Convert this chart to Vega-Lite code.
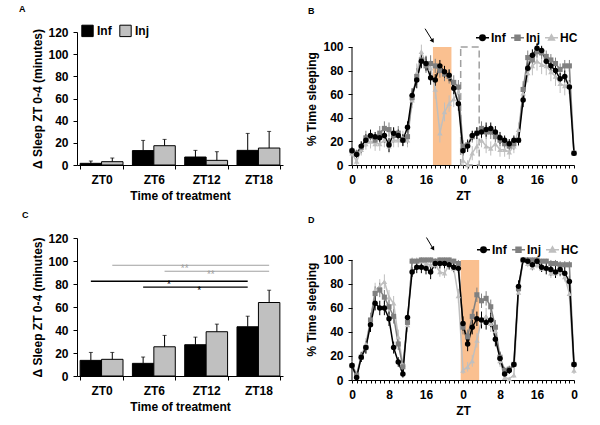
{
"$schema": "https://vega.github.io/schema/vega-lite/v6.json",
"autosize": {"type": "pad"},
"padding": {"left": 19, "top": 5, "right": 5, "bottom": 5},
"config": {
  "font": "Liberation Sans",
  "view": {"stroke": null},
  "axis": {"labelFontSize": 12, "labelFontWeight": "bold", "labelColor": "#000", "titleFontSize": 12, "titleFontWeight": "bold", "titleColor": "#000", "domainColor": "#000", "tickColor": "#000", "grid": false, "tickSize": 4, "labelPadding": 5, "labelOverlap": false},
  "legend": {"labelFontSize": 12, "labelFontWeight": "bold", "labelColor": "#000"},
  "title": {"fontSize": 9, "fontWeight": "bold", "anchor": "start", "frame": "group", "color": "#000"}
},
"resolve": {"scale": {"color": "independent", "shape": "independent"}, "legend": {"color": "independent", "shape": "independent"}},
"datasets": {
  "B": [
{"h":0,"s":"HC","v":10,"e":3},{"h":1,"s":"HC","v":3,"e":3},{"h":2,"s":"HC","v":13,"e":5},{"h":3,"s":"HC","v":18,"e":5},{"h":4,"s":"HC","v":20,"e":6},{"h":5,"s":"HC","v":18,"e":6},{"h":6,"s":"HC","v":18,"e":6},{"h":7,"s":"HC","v":21,"e":6},{"h":8,"s":"HC","v":16,"e":6},{"h":9,"s":"HC","v":21,"e":6},{"h":10,"s":"HC","v":21,"e":6},{"h":11,"s":"HC","v":23,"e":6},{"h":12,"s":"HC","v":21,"e":6},{"h":13,"s":"HC","v":55,"e":7},{"h":14,"s":"HC","v":78,"e":8},{"h":15,"s":"HC","v":96,"e":6},{"h":16,"s":"HC","v":86,"e":7},{"h":17,"s":"HC","v":82,"e":7},{"h":18,"s":"HC","v":64,"e":8},{"h":19,"s":"HC","v":27,"e":8},{"h":20,"s":"HC","v":45,"e":8},{"h":21,"s":"HC","v":52,"e":7},{"h":22,"s":"HC","v":56,"e":7},{"h":23,"s":"HC","v":62,"e":7},{"h":24,"s":"HC","v":4,"e":5},{"h":25,"s":"HC","v":0,"e":4},{"h":26,"s":"HC","v":10,"e":6},{"h":27,"s":"HC","v":16,"e":6},{"h":28,"s":"HC","v":21,"e":6},{"h":29,"s":"HC","v":16,"e":6},{"h":30,"s":"HC","v":14,"e":6},{"h":31,"s":"HC","v":18,"e":6},{"h":32,"s":"HC","v":13,"e":6},{"h":33,"s":"HC","v":13,"e":6},{"h":34,"s":"HC","v":11,"e":6},{"h":35,"s":"HC","v":16,"e":6},{"h":36,"s":"HC","v":30,"e":6},{"h":37,"s":"HC","v":61,"e":8},{"h":38,"s":"HC","v":78,"e":8},{"h":39,"s":"HC","v":84,"e":8},{"h":40,"s":"HC","v":88,"e":8},{"h":41,"s":"HC","v":85,"e":8},{"h":42,"s":"HC","v":84,"e":8},{"h":43,"s":"HC","v":79,"e":8},{"h":44,"s":"HC","v":75,"e":8},{"h":45,"s":"HC","v":69,"e":8},{"h":46,"s":"HC","v":67,"e":8},{"h":47,"s":"HC","v":69,"e":8},{"h":48,"s":"HC","v":11,"e":3},
{"h":0,"s":"Inj","v":12,"e":3},{"h":1,"s":"Inj","v":10,"e":3},{"h":2,"s":"Inj","v":15,"e":5},{"h":3,"s":"Inj","v":23,"e":6},{"h":4,"s":"Inj","v":24,"e":5},{"h":5,"s":"Inj","v":21,"e":5},{"h":6,"s":"Inj","v":27,"e":6},{"h":7,"s":"Inj","v":31,"e":6},{"h":8,"s":"Inj","v":30,"e":6},{"h":9,"s":"Inj","v":25,"e":6},{"h":10,"s":"Inj","v":27,"e":6},{"h":11,"s":"Inj","v":21,"e":5},{"h":12,"s":"Inj","v":24,"e":6},{"h":13,"s":"Inj","v":57,"e":6},{"h":14,"s":"Inj","v":75,"e":7},{"h":15,"s":"Inj","v":89,"e":6},{"h":16,"s":"Inj","v":84,"e":6},{"h":17,"s":"Inj","v":86,"e":7},{"h":18,"s":"Inj","v":84,"e":6},{"h":19,"s":"Inj","v":80,"e":6},{"h":20,"s":"Inj","v":77,"e":6},{"h":21,"s":"Inj","v":75,"e":6},{"h":22,"s":"Inj","v":70,"e":6},{"h":23,"s":"Inj","v":66,"e":6},{"h":24,"s":"Inj","v":16,"e":5},{"h":25,"s":"Inj","v":17,"e":5},{"h":26,"s":"Inj","v":24,"e":5},{"h":27,"s":"Inj","v":27,"e":5},{"h":28,"s":"Inj","v":31,"e":6},{"h":29,"s":"Inj","v":28,"e":6},{"h":30,"s":"Inj","v":28,"e":6},{"h":31,"s":"Inj","v":24,"e":5},{"h":32,"s":"Inj","v":21,"e":5},{"h":33,"s":"Inj","v":18,"e":5},{"h":34,"s":"Inj","v":16,"e":5},{"h":35,"s":"Inj","v":18,"e":5},{"h":36,"s":"Inj","v":21,"e":5},{"h":37,"s":"Inj","v":64,"e":7},{"h":38,"s":"Inj","v":91,"e":6},{"h":39,"s":"Inj","v":89,"e":6},{"h":40,"s":"Inj","v":96,"e":5},{"h":41,"s":"Inj","v":95,"e":5},{"h":42,"s":"Inj","v":92,"e":5},{"h":43,"s":"Inj","v":89,"e":5},{"h":44,"s":"Inj","v":86,"e":5},{"h":45,"s":"Inj","v":81,"e":5},{"h":46,"s":"Inj","v":84,"e":5},{"h":47,"s":"Inj","v":84,"e":5},{"h":48,"s":"Inj","v":10,"e":2},
{"h":0,"s":"Inf","v":12,"e":3},{"h":1,"s":"Inf","v":9,"e":3},{"h":2,"s":"Inf","v":16,"e":4},{"h":3,"s":"Inf","v":21,"e":5},{"h":4,"s":"Inf","v":25,"e":5},{"h":5,"s":"Inf","v":24,"e":4},{"h":6,"s":"Inf","v":23,"e":5},{"h":7,"s":"Inf","v":25,"e":6},{"h":8,"s":"Inf","v":17,"e":6},{"h":9,"s":"Inf","v":27,"e":5},{"h":10,"s":"Inf","v":25,"e":5},{"h":11,"s":"Inf","v":21,"e":5},{"h":12,"s":"Inf","v":32,"e":5},{"h":13,"s":"Inf","v":59,"e":6},{"h":14,"s":"Inf","v":72,"e":7},{"h":15,"s":"Inf","v":88,"e":6},{"h":16,"s":"Inf","v":86,"e":6},{"h":17,"s":"Inf","v":74,"e":6},{"h":18,"s":"Inf","v":72,"e":5},{"h":19,"s":"Inf","v":84,"e":5},{"h":20,"s":"Inf","v":79,"e":5},{"h":21,"s":"Inf","v":76,"e":5},{"h":22,"s":"Inf","v":65,"e":5},{"h":23,"s":"Inf","v":52,"e":6},{"h":24,"s":"Inf","v":12,"e":4},{"h":25,"s":"Inf","v":16,"e":5},{"h":26,"s":"Inf","v":25,"e":4},{"h":27,"s":"Inf","v":27,"e":5},{"h":28,"s":"Inf","v":28,"e":5},{"h":29,"s":"Inf","v":30,"e":6},{"h":30,"s":"Inf","v":31,"e":5},{"h":31,"s":"Inf","v":28,"e":5},{"h":32,"s":"Inf","v":23,"e":5},{"h":33,"s":"Inf","v":21,"e":4},{"h":34,"s":"Inf","v":18,"e":4},{"h":35,"s":"Inf","v":21,"e":4},{"h":36,"s":"Inf","v":21,"e":4},{"h":37,"s":"Inf","v":55,"e":6},{"h":38,"s":"Inf","v":82,"e":6},{"h":39,"s":"Inf","v":93,"e":5},{"h":40,"s":"Inf","v":99,"e":4},{"h":41,"s":"Inf","v":97,"e":4},{"h":42,"s":"Inf","v":88,"e":5},{"h":43,"s":"Inf","v":84,"e":5},{"h":44,"s":"Inf","v":80,"e":5},{"h":45,"s":"Inf","v":73,"e":5},{"h":46,"s":"Inf","v":75,"e":5},{"h":47,"s":"Inf","v":66,"e":6},{"h":48,"s":"Inf","v":10,"e":2}
  ],
  "D": [
{"h":0,"s":"HC","v":13,"e":3},{"h":1,"s":"HC","v":5,"e":2},{"h":2,"s":"HC","v":20,"e":4},{"h":3,"s":"HC","v":30,"e":5},{"h":4,"s":"HC","v":50,"e":6},{"h":5,"s":"HC","v":75,"e":6},{"h":6,"s":"HC","v":78,"e":6},{"h":7,"s":"HC","v":82,"e":6},{"h":8,"s":"HC","v":69,"e":6},{"h":9,"s":"HC","v":64,"e":6},{"h":10,"s":"HC","v":36,"e":6},{"h":11,"s":"HC","v":13,"e":4},{"h":12,"s":"HC","v":46,"e":6},{"h":13,"s":"HC","v":100,"e":2},{"h":14,"s":"HC","v":100,"e":2},{"h":15,"s":"HC","v":99,"e":3},{"h":16,"s":"HC","v":97,"e":3},{"h":17,"s":"HC","v":96,"e":3},{"h":18,"s":"HC","v":96,"e":3},{"h":19,"s":"HC","v":90,"e":4},{"h":20,"s":"HC","v":89,"e":4},{"h":21,"s":"HC","v":96,"e":3},{"h":22,"s":"HC","v":93,"e":4},{"h":23,"s":"HC","v":70,"e":6},{"h":24,"s":"HC","v":8,"e":3},{"h":25,"s":"HC","v":11,"e":4},{"h":26,"s":"HC","v":16,"e":5},{"h":27,"s":"HC","v":33,"e":6},{"h":28,"s":"HC","v":50,"e":7},{"h":29,"s":"HC","v":53,"e":7},{"h":30,"s":"HC","v":47,"e":7},{"h":31,"s":"HC","v":41,"e":6},{"h":32,"s":"HC","v":16,"e":5},{"h":33,"s":"HC","v":2,"e":2},{"h":34,"s":"HC","v":1,"e":1},{"h":35,"s":"HC","v":4,"e":2},{"h":36,"s":"HC","v":73,"e":6},{"h":37,"s":"HC","v":100,"e":1},{"h":38,"s":"HC","v":97,"e":3},{"h":39,"s":"HC","v":94,"e":3},{"h":40,"s":"HC","v":96,"e":3},{"h":41,"s":"HC","v":93,"e":3},{"h":42,"s":"HC","v":93,"e":3},{"h":43,"s":"HC","v":89,"e":4},{"h":44,"s":"HC","v":89,"e":4},{"h":45,"s":"HC","v":90,"e":4},{"h":46,"s":"HC","v":86,"e":4},{"h":47,"s":"HC","v":72,"e":5},{"h":48,"s":"HC","v":8,"e":3},
{"h":0,"s":"Inj","v":12,"e":3},{"h":1,"s":"Inj","v":4,"e":2},{"h":2,"s":"Inj","v":19,"e":4},{"h":3,"s":"Inj","v":27,"e":5},{"h":4,"s":"Inj","v":50,"e":6},{"h":5,"s":"Inj","v":72,"e":6},{"h":6,"s":"Inj","v":75,"e":6},{"h":7,"s":"Inj","v":69,"e":6},{"h":8,"s":"Inj","v":61,"e":6},{"h":9,"s":"Inj","v":53,"e":6},{"h":10,"s":"Inj","v":30,"e":5},{"h":11,"s":"Inj","v":11,"e":4},{"h":12,"s":"Inj","v":48,"e":5},{"h":13,"s":"Inj","v":99,"e":2},{"h":14,"s":"Inj","v":99,"e":2},{"h":15,"s":"Inj","v":100,"e":2},{"h":16,"s":"Inj","v":100,"e":2},{"h":17,"s":"Inj","v":100,"e":2},{"h":18,"s":"Inj","v":99,"e":2},{"h":19,"s":"Inj","v":100,"e":2},{"h":20,"s":"Inj","v":100,"e":2},{"h":21,"s":"Inj","v":100,"e":2},{"h":22,"s":"Inj","v":99,"e":2},{"h":23,"s":"Inj","v":97,"e":3},{"h":24,"s":"Inj","v":44,"e":6},{"h":25,"s":"Inj","v":36,"e":6},{"h":26,"s":"Inj","v":53,"e":6},{"h":27,"s":"Inj","v":71,"e":6},{"h":28,"s":"Inj","v":66,"e":6},{"h":29,"s":"Inj","v":68,"e":6},{"h":30,"s":"Inj","v":61,"e":6},{"h":31,"s":"Inj","v":44,"e":6},{"h":32,"s":"Inj","v":19,"e":5},{"h":33,"s":"Inj","v":8,"e":3},{"h":34,"s":"Inj","v":9,"e":3},{"h":35,"s":"Inj","v":13,"e":3},{"h":36,"s":"Inj","v":76,"e":5},{"h":37,"s":"Inj","v":100,"e":1},{"h":38,"s":"Inj","v":100,"e":2},{"h":39,"s":"Inj","v":100,"e":2},{"h":40,"s":"Inj","v":100,"e":2},{"h":41,"s":"Inj","v":99,"e":2},{"h":42,"s":"Inj","v":99,"e":2},{"h":43,"s":"Inj","v":97,"e":3},{"h":44,"s":"Inj","v":97,"e":3},{"h":45,"s":"Inj","v":96,"e":3},{"h":46,"s":"Inj","v":96,"e":3},{"h":47,"s":"Inj","v":96,"e":3},{"h":48,"s":"Inj","v":13,"e":3},
{"h":0,"s":"Inf","v":12,"e":3},{"h":1,"s":"Inf","v":2,"e":2},{"h":2,"s":"Inf","v":19,"e":4},{"h":3,"s":"Inf","v":27,"e":5},{"h":4,"s":"Inf","v":46,"e":6},{"h":5,"s":"Inf","v":64,"e":6},{"h":6,"s":"Inf","v":60,"e":6},{"h":7,"s":"Inf","v":60,"e":6},{"h":8,"s":"Inf","v":51,"e":6},{"h":9,"s":"Inf","v":27,"e":5},{"h":10,"s":"Inf","v":15,"e":4},{"h":11,"s":"Inf","v":5,"e":3},{"h":12,"s":"Inf","v":52,"e":5},{"h":13,"s":"Inf","v":90,"e":4},{"h":14,"s":"Inf","v":94,"e":5},{"h":15,"s":"Inf","v":94,"e":5},{"h":16,"s":"Inf","v":93,"e":5},{"h":17,"s":"Inf","v":90,"e":6},{"h":18,"s":"Inf","v":97,"e":4},{"h":19,"s":"Inf","v":97,"e":4},{"h":20,"s":"Inf","v":97,"e":4},{"h":21,"s":"Inf","v":96,"e":4},{"h":22,"s":"Inf","v":94,"e":4},{"h":23,"s":"Inf","v":93,"e":4},{"h":24,"s":"Inf","v":47,"e":6},{"h":25,"s":"Inf","v":30,"e":6},{"h":26,"s":"Inf","v":44,"e":6},{"h":27,"s":"Inf","v":51,"e":6},{"h":28,"s":"Inf","v":50,"e":7},{"h":29,"s":"Inf","v":48,"e":6},{"h":30,"s":"Inf","v":50,"e":6},{"h":31,"s":"Inf","v":34,"e":6},{"h":32,"s":"Inf","v":18,"e":5},{"h":33,"s":"Inf","v":5,"e":3},{"h":34,"s":"Inf","v":8,"e":3},{"h":35,"s":"Inf","v":13,"e":3},{"h":36,"s":"Inf","v":78,"e":5},{"h":37,"s":"Inf","v":100,"e":2},{"h":38,"s":"Inf","v":99,"e":3},{"h":39,"s":"Inf","v":96,"e":4},{"h":40,"s":"Inf","v":99,"e":3},{"h":41,"s":"Inf","v":94,"e":4},{"h":42,"s":"Inf","v":93,"e":5},{"h":43,"s":"Inf","v":92,"e":5},{"h":44,"s":"Inf","v":90,"e":5},{"h":45,"s":"Inf","v":92,"e":5},{"h":46,"s":"Inf","v":89,"e":5},{"h":47,"s":"Inf","v":82,"e":5},{"h":48,"s":"Inf","v":13,"e":3}
  ]
},
"columns": 2,
"bounds": "flush",
"spacing": {"row": 73, "column": 69},
"concat": [
{
  "width": 206, "height": 133,
  "title": {"text": "A", "dx": -58, "offset": 12},
  "data": {"values": [
    {"zt": "ZT0", "g": "Inf", "v": 1.5, "hi": 3.6}, {"zt": "ZT0", "g": "Inj", "v": 3, "hi": 6.3},
    {"zt": "ZT6", "g": "Inf", "v": 13, "hi": 22.2}, {"zt": "ZT6", "g": "Inj", "v": 17.4, "hi": 23.1},
    {"zt": "ZT12", "g": "Inf", "v": 7.2, "hi": 13.2}, {"zt": "ZT12", "g": "Inj", "v": 4.2, "hi": 12},
    {"zt": "ZT18", "g": "Inf", "v": 13.2, "hi": 28.5}, {"zt": "ZT18", "g": "Inj", "v": 15.3, "hi": 30.3}
  ]},
  "layer": [
    {"mark": {"type": "bar", "stroke": "#000", "strokeWidth": 1},
     "encoding": {
       "x": {"field": "zt", "type": "nominal", "title": "Time of treatment", "scale": {"domain": ["ZT0", "ZT6", "ZT12", "ZT18"], "paddingInner": 0.18, "paddingOuter": 0.06}, "axis": {"labelAngle": 0, "tickBand": "extent", "labelPadding": 5, "titlePadding": 5}},
       "xOffset": {"field": "g", "type": "nominal", "scale": {"domain": ["Inf", "Inj"]}},
       "y": {"field": "v", "type": "quantitative", "title": "Δ Sleep ZT 0-4 (minutes)", "scale": {"domain": [0, 120], "nice": false}, "axis": {"values": [0, 20, 40, 60, 80, 100, 120], "tickCount": 100, "titlePadding": 3}},
       "fill": {"field": "g", "type": "nominal", "scale": {"domain": ["Inf", "Inj"], "range": ["#000000", "#c0c0c0"]}, "legend": {"orient": "none", "legendX": 4, "legendY": -8, "direction": "horizontal", "title": null, "symbolType": "square", "symbolSize": 130, "symbolStrokeColor": "#000", "symbolStrokeWidth": 1, "labelOffset": 3, "columnPadding": 5}}
     }},
    {"mark": {"type": "rule", "color": "#000", "strokeWidth": 1},
     "encoding": {
       "x": {"field": "zt", "type": "nominal", "title": "Time of treatment"},
       "xOffset": {"field": "g", "type": "nominal"},
       "y": {"field": "v", "type": "quantitative", "title": "Δ Sleep ZT 0-4 (minutes)"}, "y2": {"field": "hi"}}},
    {"mark": {"type": "tick", "color": "#000", "thickness": 1, "size": 4},
     "encoding": {
       "x": {"field": "zt", "type": "nominal", "title": "Time of treatment"},
       "xOffset": {"field": "g", "type": "nominal"},
       "y": {"field": "hi", "type": "quantitative", "title": "Δ Sleep ZT 0-4 (minutes)"}}}
  ]
},
{
  "width": 222, "height": 133,
  "title": {"text": "B", "dx": -44, "offset": 12},
  "layer": [
    {"data": {"values": [{"a": 17.5, "b": 21.5, "lo": 0, "top": 100}]},
     "mark": {"type": "rect", "fill": "#FAC090"},
     "encoding": {
       "x": {"field": "a", "type": "quantitative", "title": "ZT", "scale": {"domain": [0, 48], "nice": false}, "axis": {"values": [0,1,2,3,4,5,6,7,8,9,10,11,12,13,14,15,16,17,18,19,20,21,22,23,24,25,26,27,28,29,30,31,32,33,34,35,36,37,38,39,40,41,42,43,44,45,46,47,48], "tickCount": 100, "labelExpr": "datum.value % 8 === 0 ? '' + (datum.value % 24) : ''", "tickSize": 3, "labelPadding": 6, "titlePadding": 5, "labelFlush": false}},
       "x2": {"field": "b"},
       "y": {"field": "lo", "type": "quantitative", "title": "% Time sleeping", "scale": {"domain": [0, 112.7], "nice": false}, "axis": {"values": [0, 20, 40, 60, 80, 100], "tickCount": 100, "domain": false, "titlePadding": 4}},
       "y2": {"field": "top"}}},
    {"data": {"values": [{"a": 23.5, "b": 27.5, "lo": 0, "top": 100}]},
     "mark": {"type": "rect", "fill": "transparent", "stroke": "#a0a0a0", "strokeDash": [7, 4], "strokeWidth": 1.5},
     "encoding": {"x": {"field": "a", "type": "quantitative", "title": "ZT"}, "x2": {"field": "b"}, "y": {"field": "lo", "type": "quantitative", "title": "% Time sleeping"}, "y2": {"field": "top"}}},
    {"data": {"values": [{"a": 0, "lo": 0, "top": 100}]},
     "mark": {"type": "rule", "color": "#000"},
     "encoding": {"x": {"field": "a", "type": "quantitative", "title": "ZT"}, "y": {"field": "lo", "type": "quantitative", "title": "% Time sleeping"}, "y2": {"field": "top"}}},
    {"data": {"name": "B"},
     "mark": {"type": "errorbar", "thickness": 1},
     "encoding": {"x": {"field": "h", "type": "quantitative", "title": "ZT"}, "y": {"field": "v", "type": "quantitative", "title": "% Time sleeping"}, "yError": {"field": "e"},
       "color": {"field": "s", "type": "nominal", "scale": {"domain": ["Inf", "Inj", "HC"], "range": ["#000000", "#808080", "#bfbfbf"]}}}},
    {"data": {"name": "B"},
     "mark": {"type": "line", "strokeWidth": 1.5},
     "encoding": {"x": {"field": "h", "type": "quantitative", "title": "ZT"}, "y": {"field": "v", "type": "quantitative", "title": "% Time sleeping"},
       "color": {"field": "s", "type": "nominal"}}},
    {"data": {"name": "B"}, "transform": [{"filter": "datum.s === 'HC'"}],
     "mark": {"type": "point", "shape": "triangle-up", "filled": true, "opacity": 1, "size": 30},
     "encoding": {"x": {"field": "h", "type": "quantitative", "title": "ZT"}, "y": {"field": "v", "type": "quantitative", "title": "% Time sleeping"},
       "color": {"field": "s", "type": "nominal"}}},
    {"data": {"name": "B"}, "transform": [{"filter": "datum.s === 'Inj'"}],
     "mark": {"type": "point", "shape": "square", "filled": true, "opacity": 1, "size": 26},
     "encoding": {"x": {"field": "h", "type": "quantitative", "title": "ZT"}, "y": {"field": "v", "type": "quantitative", "title": "% Time sleeping"},
       "color": {"field": "s", "type": "nominal"}}},
    {"data": {"name": "B"}, "transform": [{"filter": "datum.s === 'Inf'"}],
     "mark": {"type": "point", "shape": "circle", "filled": true, "opacity": 1, "size": 30},
     "encoding": {"x": {"field": "h", "type": "quantitative", "title": "ZT"}, "y": {"field": "v", "type": "quantitative", "title": "% Time sleeping"},
       "color": {"field": "s", "type": "nominal"}}},
    {"data": {"name": "B"}, "transform": [{"filter": "datum.h === 0"}],
     "mark": {"type": "point", "filled": true, "opacity": 0, "size": 30},
     "encoding": {"x": {"field": "h", "type": "quantitative", "title": "ZT"}, "y": {"field": "v", "type": "quantitative", "title": "% Time sleeping"},
       "shape": {"field": "s", "type": "nominal", "scale": {"domain": ["Inf", "Inj", "HC"], "range": ["M-1,0H1M-0.42,0A0.42,0.42,0,1,0,0.42,0A0.42,0.42,0,1,0,-0.42,0Z", "M-1,0H1M-0.38,-0.38H0.38V0.38H-0.38Z", "M-1,0H1M0,-0.45L0.45,0.36H-0.45Z"]}},
       "color": {"field": "s", "type": "nominal", "legend": {"orient": "none", "legendX": 123, "legendY": -2, "direction": "horizontal", "title": null, "symbolSize": 169, "symbolStrokeWidth": 1.5, "symbolOpacity": 1, "symbolStrokeColor": "#808080", "labelOffset": 1, "columnPadding": 2}}}},
    {"data": {"values": [{"x": 15.8, "y": 115.5, "xe": 17.3, "ye": 106}]},
     "mark": {"type": "rule", "color": "#000", "strokeWidth": 1},
     "encoding": {"x": {"field": "x", "type": "quantitative", "title": "ZT"}, "y": {"field": "y", "type": "quantitative", "title": "% Time sleeping"}, "x2": {"field": "xe"}, "y2": {"field": "ye"}}},
    {"data": {"values": [{"x": 17.45, "y": 105}]},
     "mark": {"type": "point", "shape": "triangle-down", "filled": true, "color": "#000", "opacity": 1, "size": 22, "angle": 328},
     "encoding": {"x": {"field": "x", "type": "quantitative", "title": "ZT"}, "y": {"field": "y", "type": "quantitative", "title": "% Time sleeping"}}}
  ]
},
{
  "width": 206, "height": 138,
  "title": {"text": "C", "dx": -55, "offset": 12},
  "data": {"values": [
    {"zt": "ZT0", "g": "Inf", "v": 13.6, "hi": 20.5}, {"zt": "ZT0", "g": "Inj", "v": 14.5, "hi": 20.5},
    {"zt": "ZT6", "g": "Inf", "v": 11, "hi": 16.5}, {"zt": "ZT6", "g": "Inj", "v": 25.4, "hi": 35.3},
    {"zt": "ZT12", "g": "Inf", "v": 27.2, "hi": 33.8}, {"zt": "ZT12", "g": "Inj", "v": 38.5, "hi": 45.1},
    {"zt": "ZT18", "g": "Inf", "v": 42.8, "hi": 52}, {"zt": "ZT18", "g": "Inj", "v": 63.9, "hi": 74.6}
  ]},
  "layer": [
    {"mark": {"type": "bar", "stroke": "#000", "strokeWidth": 1},
     "encoding": {
       "x": {"field": "zt", "type": "nominal", "title": "Time of treatment", "scale": {"domain": ["ZT0", "ZT6", "ZT12", "ZT18"], "paddingInner": 0.18, "paddingOuter": 0.06}, "axis": {"labelAngle": 0, "tickBand": "extent", "labelPadding": 5, "titlePadding": 5}},
       "xOffset": {"field": "g", "type": "nominal", "scale": {"domain": ["Inf", "Inj"]}},
       "y": {"field": "v", "type": "quantitative", "title": "Δ Sleep ZT 0-4 (minutes)", "scale": {"domain": [0, 120], "nice": false}, "axis": {"values": [0, 20, 40, 60, 80, 100, 120], "tickCount": 100, "titlePadding": 3}},
       "fill": {"field": "g", "type": "nominal", "scale": {"domain": ["Inf", "Inj"], "range": ["#000000", "#c0c0c0"]}, "legend": {"orient": "none", "legendX": 4, "legendY": 197, "direction": "horizontal", "title": null, "symbolType": "square", "symbolSize": 130, "symbolStrokeColor": "#000", "symbolStrokeWidth": 1, "labelOffset": 3, "columnPadding": 5}}
     }},
    {"mark": {"type": "rule", "color": "#000", "strokeWidth": 1},
     "encoding": {
       "x": {"field": "zt", "type": "nominal", "title": "Time of treatment"},
       "xOffset": {"field": "g", "type": "nominal"},
       "y": {"field": "v", "type": "quantitative", "title": "Δ Sleep ZT 0-4 (minutes)"}, "y2": {"field": "hi"}}},
    {"mark": {"type": "tick", "color": "#000", "thickness": 1, "size": 4},
     "encoding": {
       "x": {"field": "zt", "type": "nominal", "title": "Time of treatment"},
       "xOffset": {"field": "g", "type": "nominal"},
       "y": {"field": "hi", "type": "quantitative", "title": "Δ Sleep ZT 0-4 (minutes)"}}},
    {"data": {"values": [{"a": "ZT0", "b": "ZT18", "y": 96.3}, {"a": "ZT6", "b": "ZT18", "y": 91.1}]},
     "mark": {"type": "rule", "color": "#a0a0a0", "strokeWidth": 1},
     "encoding": {"x": {"field": "a", "type": "nominal", "title": "Time of treatment", "bandPosition": 0.75}, "x2": {"field": "b", "bandPosition": 0.75}, "y": {"field": "y", "type": "quantitative", "title": "Δ Sleep ZT 0-4 (minutes)"}}},
    {"data": {"values": [{"a": "ZT0", "b": "ZT18", "y": 82.4}, {"a": "ZT6", "b": "ZT18", "y": 77.2}]},
     "mark": {"type": "rule", "color": "#000", "strokeWidth": 1.3},
     "encoding": {"x": {"field": "a", "type": "nominal", "title": "Time of treatment", "bandPosition": 0.25}, "x2": {"field": "b", "bandPosition": 0.25}, "y": {"field": "y", "type": "quantitative", "title": "Δ Sleep ZT 0-4 (minutes)"}}},
    {"data": {"values": [{"m": "ZT12", "y": 96.3, "t": "**"}]},
     "mark": {"type": "text", "color": "#a0a0a0", "fontSize": 10, "dy": 4},
     "encoding": {"x": {"field": "m", "type": "nominal", "title": "Time of treatment", "bandPosition": 0.0}, "y": {"field": "y", "type": "quantitative", "title": "Δ Sleep ZT 0-4 (minutes)"}, "text": {"field": "t"}}},
    {"data": {"values": [{"m": "ZT12", "y": 91.1, "t": "**"}]},
     "mark": {"type": "text", "color": "#a0a0a0", "fontSize": 10, "dy": 4},
     "encoding": {"x": {"field": "m", "type": "nominal", "title": "Time of treatment", "bandPosition": 0.61}, "y": {"field": "y", "type": "quantitative", "title": "Δ Sleep ZT 0-4 (minutes)"}, "text": {"field": "t"}}},
    {"data": {"values": [{"m": "ZT6", "y": 82.4, "t": "*"}]},
     "mark": {"type": "text", "color": "#000", "fontSize": 10, "dy": 4},
     "encoding": {"x": {"field": "m", "type": "nominal", "title": "Time of treatment", "bandPosition": 0.85}, "y": {"field": "y", "type": "quantitative", "title": "Δ Sleep ZT 0-4 (minutes)"}, "text": {"field": "t"}}},
    {"data": {"values": [{"m": "ZT12", "y": 77.2, "t": "*"}]},
     "mark": {"type": "text", "color": "#000", "fontSize": 10, "dy": 4},
     "encoding": {"x": {"field": "m", "type": "nominal", "title": "Time of treatment", "bandPosition": 0.34}, "y": {"field": "y", "type": "quantitative", "title": "Δ Sleep ZT 0-4 (minutes)"}, "text": {"field": "t"}}}
  ]
},
{
  "width": 222, "height": 142,
  "title": {"text": "D", "dx": -44, "offset": 12},
  "layer": [
    {"data": {"values": [{"a": 23.5, "b": 27.5, "lo": 0, "top": 100}]},
     "mark": {"type": "rect", "fill": "#FAC090"},
     "encoding": {
       "x": {"field": "a", "type": "quantitative", "title": "ZT", "scale": {"domain": [0, 48], "nice": false}, "axis": {"values": [0,1,2,3,4,5,6,7,8,9,10,11,12,13,14,15,16,17,18,19,20,21,22,23,24,25,26,27,28,29,30,31,32,33,34,35,36,37,38,39,40,41,42,43,44,45,46,47,48], "tickCount": 100, "labelExpr": "datum.value % 8 === 0 ? '' + (datum.value % 24) : ''", "tickSize": 3, "labelPadding": 6, "titlePadding": 5, "labelFlush": false}},
       "x2": {"field": "b"},
       "y": {"field": "lo", "type": "quantitative", "title": "% Time sleeping", "scale": {"domain": [0, 118.3], "nice": false}, "axis": {"values": [0, 20, 40, 60, 80, 100], "tickCount": 100, "domain": false, "titlePadding": 4}},
       "y2": {"field": "top"}}},
    {"data": {"values": [{"a": 0, "lo": 0, "top": 100}]},
     "mark": {"type": "rule", "color": "#000"},
     "encoding": {"x": {"field": "a", "type": "quantitative", "title": "ZT"}, "y": {"field": "lo", "type": "quantitative", "title": "% Time sleeping"}, "y2": {"field": "top"}}},
    {"data": {"name": "D"},
     "mark": {"type": "errorbar", "thickness": 1},
     "encoding": {"x": {"field": "h", "type": "quantitative", "title": "ZT"}, "y": {"field": "v", "type": "quantitative", "title": "% Time sleeping"}, "yError": {"field": "e"},
       "color": {"field": "s", "type": "nominal", "scale": {"domain": ["Inf", "Inj", "HC"], "range": ["#000000", "#808080", "#bfbfbf"]}}}},
    {"data": {"name": "D"},
     "mark": {"type": "line", "strokeWidth": 1.5},
     "encoding": {"x": {"field": "h", "type": "quantitative", "title": "ZT"}, "y": {"field": "v", "type": "quantitative", "title": "% Time sleeping"},
       "color": {"field": "s", "type": "nominal"}}},
    {"data": {"name": "D"}, "transform": [{"filter": "datum.s === 'HC'"}],
     "mark": {"type": "point", "shape": "triangle-up", "filled": true, "opacity": 1, "size": 30},
     "encoding": {"x": {"field": "h", "type": "quantitative", "title": "ZT"}, "y": {"field": "v", "type": "quantitative", "title": "% Time sleeping"},
       "color": {"field": "s", "type": "nominal"}}},
    {"data": {"name": "D"}, "transform": [{"filter": "datum.s === 'Inj'"}],
     "mark": {"type": "point", "shape": "square", "filled": true, "opacity": 1, "size": 26},
     "encoding": {"x": {"field": "h", "type": "quantitative", "title": "ZT"}, "y": {"field": "v", "type": "quantitative", "title": "% Time sleeping"},
       "color": {"field": "s", "type": "nominal"}}},
    {"data": {"name": "D"}, "transform": [{"filter": "datum.s === 'Inf'"}],
     "mark": {"type": "point", "shape": "circle", "filled": true, "opacity": 1, "size": 30},
     "encoding": {"x": {"field": "h", "type": "quantitative", "title": "ZT"}, "y": {"field": "v", "type": "quantitative", "title": "% Time sleeping"},
       "color": {"field": "s", "type": "nominal"}}},
    {"data": {"name": "D"}, "transform": [{"filter": "datum.h === 0"}],
     "mark": {"type": "point", "filled": true, "opacity": 0, "size": 30},
     "encoding": {"x": {"field": "h", "type": "quantitative", "title": "ZT"}, "y": {"field": "v", "type": "quantitative", "title": "% Time sleeping"},
       "shape": {"field": "s", "type": "nominal", "scale": {"domain": ["Inf", "Inj", "HC"], "range": ["M-1,0H1M-0.42,0A0.42,0.42,0,1,0,0.42,0A0.42,0.42,0,1,0,-0.42,0Z", "M-1,0H1M-0.38,-0.38H0.38V0.38H-0.38Z", "M-1,0H1M0,-0.45L0.45,0.36H-0.45Z"]}},
       "color": {"field": "s", "type": "nominal", "legend": {"orient": "none", "legendX": 124, "legendY": 4, "direction": "horizontal", "title": null, "symbolSize": 169, "symbolStrokeWidth": 1.5, "symbolOpacity": 1, "symbolStrokeColor": "#808080", "labelOffset": 1, "columnPadding": 2}}}},
    {"data": {"values": [{"x": 16.1, "y": 118.7, "xe": 17.4, "ye": 110.3}]},
     "mark": {"type": "rule", "color": "#000", "strokeWidth": 1},
     "encoding": {"x": {"field": "x", "type": "quantitative", "title": "ZT"}, "y": {"field": "y", "type": "quantitative", "title": "% Time sleeping"}, "x2": {"field": "xe"}, "y2": {"field": "ye"}}},
    {"data": {"values": [{"x": 17.55, "y": 109.3}]},
     "mark": {"type": "point", "shape": "triangle-down", "filled": true, "color": "#000", "opacity": 1, "size": 22, "angle": 328},
     "encoding": {"x": {"field": "x", "type": "quantitative", "title": "ZT"}, "y": {"field": "y", "type": "quantitative", "title": "% Time sleeping"}}}
  ]
}
]
}
